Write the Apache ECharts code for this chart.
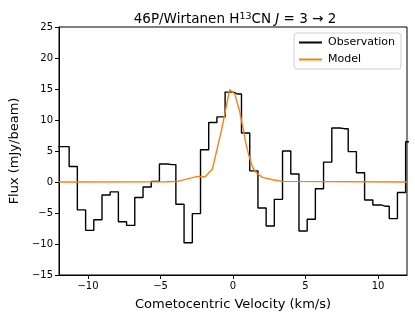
<!DOCTYPE html>
<html>
<head>
<meta charset="utf-8">
<script src="https://cdn.jsdelivr.net/npm/echarts@6/dist/echarts.min.js"></script>
<style>
html,body{margin:0;padding:0;background:#fff;}
#chart{width:415px;height:320px;}
</style>
</head>
<body>
<div id="chart"></div>
<script>
// Observation: bin centres (km/s) and flux (mJy/beam)
var obsVelocity = [-12.43, -11.58, -11.02, -10.45, -9.88, -9.32, -8.75, -8.19, -7.62, -7.06,
  -6.49, -5.92, -5.36, -4.79, -4.22, -3.66, -3.09, -2.52, -1.96, -1.39,
  -0.83, -0.26, 0.30, 0.87, 1.44, 2.00, 2.57, 3.13, 3.70, 4.27,
  4.83, 5.40, 5.96, 6.53, 7.10, 7.66, 8.23, 8.79, 9.36, 9.93,
  10.49, 11.06, 11.62, 12.19];
var obsFlux = [5.7, 5.7, 2.5, -4.5, -7.8, -6.1, -2.1, -1.6, -6.4, -7.0,
  -2.5, -0.8, 0.1, 2.9, 2.8, -3.6, -9.8, -5.1, 5.2, 9.6,
  10.5, 14.5, 14.2, 7.9, 1.8, -4.2, -7.1, -2.8, 5.0, 1.3,
  -7.9, -6.0, -1.1, 3.2, 8.7, 8.6, 4.9, 1.5, -2.9, -3.7,
  -3.9, -5.9, -1.7, 6.5];
// Model
var modelVelocity = [-12, -4.6, -3.8, -3.13, -2.45, -1.92, -1.42, -0.8, -0.23, 0.12,
  0.46, 0.69, 0.91, 1.14, 1.37, 1.6, 2.04, 2.73, 3.4, 12];
var modelFlux = [0, 0.05, 0.1, 0.5, 0.9, 0.85, 2.1, 8.3, 14.9, 14.2,
  11.4, 8.7, 6.0, 3.9, 2.3, 1.5, 0.75, 0.37, 0.1, 0];
var xTicks = [-10, -5, 0, 5, 10];
var yTicks = [-15, -10, -5, 0, 5, 10, 15, 20, 25];

function pairs(xs, ys) { return xs.map(function (x, i) { return [x, ys[i]]; }); }
function fmt(v) { return String(v).replace('-', '\u2212'); }

var FONT = 'DejaVu Sans';
var chart = echarts.init(document.getElementById('chart'), null, {renderer: 'canvas'});
chart.setOption({
  animation: false,
  backgroundColor: '#fff',
  textStyle: {fontFamily: FONT, color: '#000'},
  title: {
    text: '46P/Wirtanen H{sup|13}CN {it|J} = 3 \u2192 2',
    left: 230, top: 7, textAlign: 'center',
    textStyle: {
      fontFamily: FONT, fontSize: 13.5, fontWeight: 'normal', color: '#000',
      rich: {
        sup: {fontFamily: FONT, fontSize: 9.5, color: '#000', verticalAlign: 'top', lineHeight: 15},
        it: {fontFamily: FONT, fontSize: 13.5, fontStyle: 'italic', color: '#000'}
      }
    }
  },
  grid: {left: 58, right: 8, top: 27, bottom: 45, show: true, borderColor: '#000', borderWidth: 1, backgroundColor: 'transparent'},
  legend: {
    orient: 'vertical', right: 14, top: 33,
    itemWidth: 23, itemHeight: 12, itemGap: 6,
    padding: [4, 6, 4, 4],
    borderColor: '#d0d0d0', borderWidth: 1, borderRadius: 3,
    backgroundColor: '#fff',
    itemStyle: {opacity: 0},
    textStyle: {fontFamily: FONT, fontSize: 11, color: '#000', padding: [0, 0, 0, 1]},
    data: ['Observation', 'Model']
  },
  xAxis: {
    type: 'value', min: -12, max: 12,
    name: 'Cometocentric Velocity (km/s)', nameLocation: 'middle', nameGap: 23,
    nameTextStyle: {fontFamily: FONT, fontSize: 13, color: '#000'},
    axisLine: {show: true, onZero: false, lineStyle: {color: '#000', width: 1}},
    axisTick: {show: true, length: 4, lineStyle: {color: '#000'}, customValues: xTicks},
    axisLabel: {fontFamily: FONT, fontSize: 10, color: '#000', margin: 6, customValues: xTicks, formatter: fmt},
    splitLine: {show: false}
  },
  yAxis: {
    type: 'value', min: -15, max: 25, interval: 5,
    name: 'Flux (mJy/beam)', nameLocation: 'middle', nameGap: 38,
    nameTextStyle: {fontFamily: FONT, fontSize: 13, color: '#000'},
    axisLine: {show: true, onZero: false, lineStyle: {color: '#000', width: 1}},
    axisTick: {show: true, length: 4, lineStyle: {color: '#000'}},
    axisLabel: {fontFamily: FONT, fontSize: 10, color: '#000', margin: 6, formatter: fmt},
    splitLine: {show: false}
  },
  series: [
    {
      name: 'Observation', type: 'line', step: 'middle',
      data: pairs(obsVelocity, obsFlux),
      symbol: 'none', clip: true,
      lineStyle: {color: '#000', width: 1.4},
      itemStyle: {color: '#000'},
      z: 2
    },
    {
      name: 'Model', type: 'line',
      data: pairs(modelVelocity, modelFlux),
      symbol: 'none', clip: true,
      lineStyle: {color: '#ff7f0e', width: 1.4},
      itemStyle: {color: '#ff7f0e'},
      z: 3
    }
  ]
});
</script>
</body>
</html>
